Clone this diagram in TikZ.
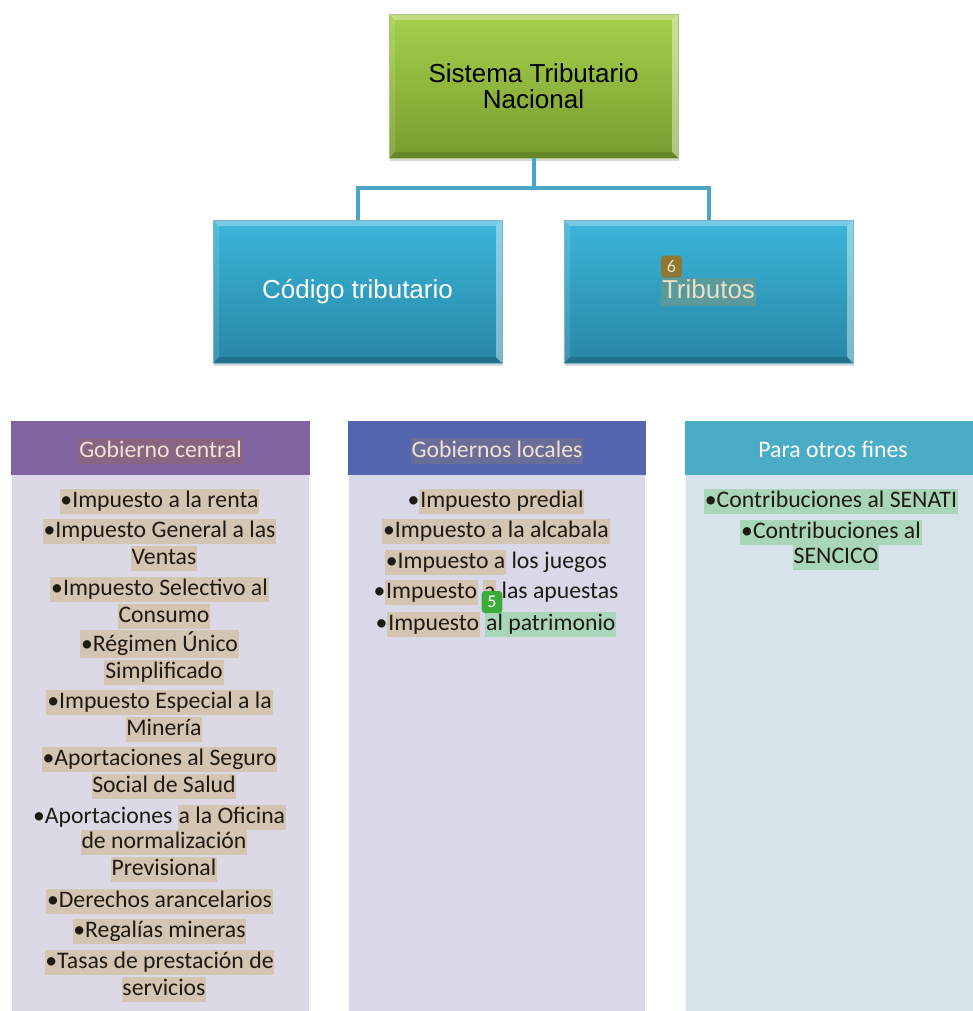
\documentclass[tikz,border=0pt]{standalone}
\usepackage{fontspec}
\usetikzlibrary{calc,shadows}
\newfontfamily\arialf{Liberation Sans}
\newfontfamily\carlito{Carlito}
\definecolor{grtop}{HTML}{A6D04C}
\definecolor{grbot}{HTML}{789C2F}
\definecolor{bltop}{HTML}{3BB6DA}
\definecolor{blbot}{HTML}{2886A4}
\definecolor{connc}{HTML}{4AA6C4}
\definecolor{hpurple}{HTML}{8064A2}
\definecolor{hblue}{HTML}{5566B0}
\definecolor{hteal}{HTML}{4BACC6}
\definecolor{bpurple}{HTML}{DCD8E6}
\definecolor{bblue}{HTML}{D8D8E8}
\definecolor{bteal}{HTML}{D6E3EA}
\definecolor{tanhl}{HTML}{D4C4B2}
\definecolor{grnhl}{HTML}{A9D6B8}
\definecolor{mauvehl}{HTML}{886682}
\definecolor{slatehl}{HTML}{6A6D98}
\definecolor{cream}{HTML}{F0E2D4}
\definecolor{tribhl}{HTML}{5B9A9C}
\definecolor{tribtx}{HTML}{E8DFC8}
\definecolor{badgeol}{HTML}{8E7730}
\definecolor{badgegr}{HTML}{3CAB3A}
\definecolor{txt}{HTML}{1E1A14}
\newcommand\hltan[1]{{\setlength{\fboxsep}{0.6pt}\colorbox{tanhl}{\rule[-4.6pt]{0pt}{17.6pt}#1}}}
\newcommand\hlgrn[1]{{\setlength{\fboxsep}{0.6pt}\colorbox{grnhl}{\rule[-4.6pt]{0pt}{17.6pt}#1}}}
\newcommand\hlhead[2]{{\setlength{\fboxsep}{0.6pt}\colorbox{#1}{\rule[-4.5pt]{0pt}{17.8pt}#2}}}
\tikzset{
  bevel/.style={path picture={
    \path (path picture bounding box.north west) coordinate (pnw)
          (path picture bounding box.north east) coordinate (pne)
          (path picture bounding box.south west) coordinate (psw)
          (path picture bounding box.south east) coordinate (pse);
    \fill[white,opacity=.30] (pnw) -- (pne) -- ([xshift=-4.5pt,yshift=-4.5pt]pne) -- ([xshift=4.5pt,yshift=-4.5pt]pnw) -- cycle;
    \fill[white,opacity=.12] (pnw) -- ([xshift=4.5pt,yshift=-4.5pt]pnw) -- ([xshift=4.5pt,yshift=4.5pt]psw) -- (psw) -- cycle;
    \fill[white,opacity=.40] (pne) -- ([xshift=-4.5pt,yshift=-4.5pt]pne) -- ([xshift=-4.5pt,yshift=4.5pt]pse) -- (pse) -- cycle;
    \fill[black,opacity=.15] (psw) -- ([xshift=4.5pt,yshift=4.5pt]psw) -- ([xshift=-4.5pt,yshift=4.5pt]pse) -- (pse) -- cycle;
  }},
  topbox/.style={bevel, top color=grtop, bottom color=grbot, draw=grbot!60, line width=0.3pt,
    minimum width=216.75pt, minimum height=108pt, inner sep=0pt, align=center,
    font=\arialf\fontsize{19.5}{19.5}\selectfont, text=black,
    drop shadow={shadow xshift=0.5pt, shadow yshift=-2pt, opacity=0.3}},
  bluebox/.style={bevel, top color=bltop, bottom color=blbot, draw=blbot!60, line width=0.3pt,
    minimum width=216.75pt, minimum height=107.25pt, inner sep=0pt, align=center,
    text height=14pt, text depth=4pt,
    font=\arialf\fontsize{19.5}{19.5}\selectfont, text=white,
    drop shadow={shadow xshift=0.5pt, shadow yshift=-2pt, opacity=0.3}},
  conn/.style={draw=connc, line width=3pt},
  itm/.style={anchor=base, inner sep=0pt, text=txt, font=\carlito\fontsize{17.8}{19.5}\selectfont},
  head/.style={anchor=base, inner sep=0pt, font=\carlito\fontsize{17.8}{19.5}\selectfont},
  badge/.style={rounded corners=2.5pt, inner sep=0pt, minimum width=15.5pt, minimum height=16.5pt,
    text=white, font=\carlito\fontsize{13.5}{14}\selectfont},
}
\begin{document}
\begin{tikzpicture}[x=0.75pt,y=-0.75pt]
\useasboundingbox (0,0) rectangle (973,1011);
\fill[white] (0,0) rectangle (973,1011);

\coordinate (j) at (533.5,188);
\node[topbox] (top) at (533.5,86) {Sistema Tributario\\Nacional};
\node[bluebox] (cod) at (357.5,291.5) {Código tributario};
\node[bluebox] (trib) at (708.5,291.5) {{\setlength{\fboxsep}{0.5pt}\colorbox{tribhl}{\rule[-5pt]{0pt}{20pt}\color{tribtx}Tributos}}};
\draw[conn] (top.south) -- (j);
\draw[conn] (cod.north) |- (j) -| (trib.north);
\node[badge, fill=badgeol, text=tribtx] (b6) at (671.5,266.5) {6};

% panels
\fill[bpurple] (11,475) rectangle (310,1015);
\fill[hpurple] (11,421) rectangle (310,475);
\draw[white!85!bpurple, line width=0.8pt] (11,475) -- (11,1015) (310,475) -- (310,1015);
\fill[bblue] (348,475) rectangle (646,1015);
\fill[hblue] (348,421) rectangle (646,475);
\draw[white!85!bblue, line width=0.8pt] (348,475) -- (348,1015) (646,475) -- (646,1015);
\fill[bteal] (685,475) rectangle (980,1015);
\fill[hteal] (685,421) rectangle (980,475);
\draw[white!85!bteal, line width=0.8pt] (685,475) -- (685,1015);

% headers
\node[head] (h1) at (160.5,457) {\hlhead{mauvehl}{\color{cream}Gobierno central}};
\node[head] (h2) at (497,457) {\hlhead{slatehl}{\color{cream}Gobiernos locales}};
\node[head, text=white] (h3) at (833,457) {Para otros fines};

% Gobierno central
\node[itm] (g1) at (159.5,507) {\hltan{•Impuesto a la renta}};
\node[itm] (g2) at (159.5,537) {\hltan{•Impuesto General a las}};
\node[itm] (g3) at (164,564) {\hltan{Ventas}};
\node[itm] (g4) at (159.5,595) {\hltan{•Impuesto Selectivo al}};
\node[itm] (g5) at (164,622) {\hltan{Consumo}};
\node[itm] (g6) at (159.5,651) {\hltan{•Régimen Único}};
\node[itm] (g7) at (164,678) {\hltan{Simplificado}};
\node[itm] (g8) at (159.5,708) {\hltan{•Impuesto Especial a la}};
\node[itm] (g9) at (164,735) {\hltan{Minería}};
\node[itm] (g10) at (159.5,765) {\hltan{•Aportaciones al Seguro}};
\node[itm] (g11) at (164,792) {\hltan{Social de Salud}};
\node[itm] (g12) at (159.5,823) {•Aportaciones \hltan{a la Oficina}};
\node[itm] (g13) at (164,848) {\hltan{de normalización}};
\node[itm] (g14) at (164,875) {\hltan{Previsional}};
\node[itm] (g15) at (159.5,907) {\hltan{•Derechos arancelarios}};
\node[itm] (g16) at (159.5,937) {\hltan{•Regalías mineras}};
\node[itm] (g17) at (159.5,968) {\hltan{•Tasas de prestación de}};
\node[itm] (g18) at (164,995) {\hltan{servicios}};

% Gobiernos locales
\node[itm] (l1) at (496,507) {•\hltan{Impuesto predial}};
\node[itm] (l2) at (496,537) {\hltan{•Impuesto a la alcabala}};
\node[itm] (l3) at (496,568) {\hltan{•Impuesto a} los juegos};
\node[itm] (l4) at (496,598) {•\hltan{Impuesto} \hltan{a} las apuestas};
\node[itm] (l5) at (496,630) {•\hltan{Impuesto} \hlgrn{al patrimonio}};
\node[badge, fill=badgegr] (b5) at (492,602) {5};

% Para otros fines
\node[itm] (r1) at (831,507) {\hlgrn{•Contribuciones al SENATI}};
\node[itm] (r2) at (831,538) {\hlgrn{•Contribuciones al}};
\node[itm] (r3) at (836,563) {\hlgrn{SENCICO}};
\end{tikzpicture}
\end{document}
